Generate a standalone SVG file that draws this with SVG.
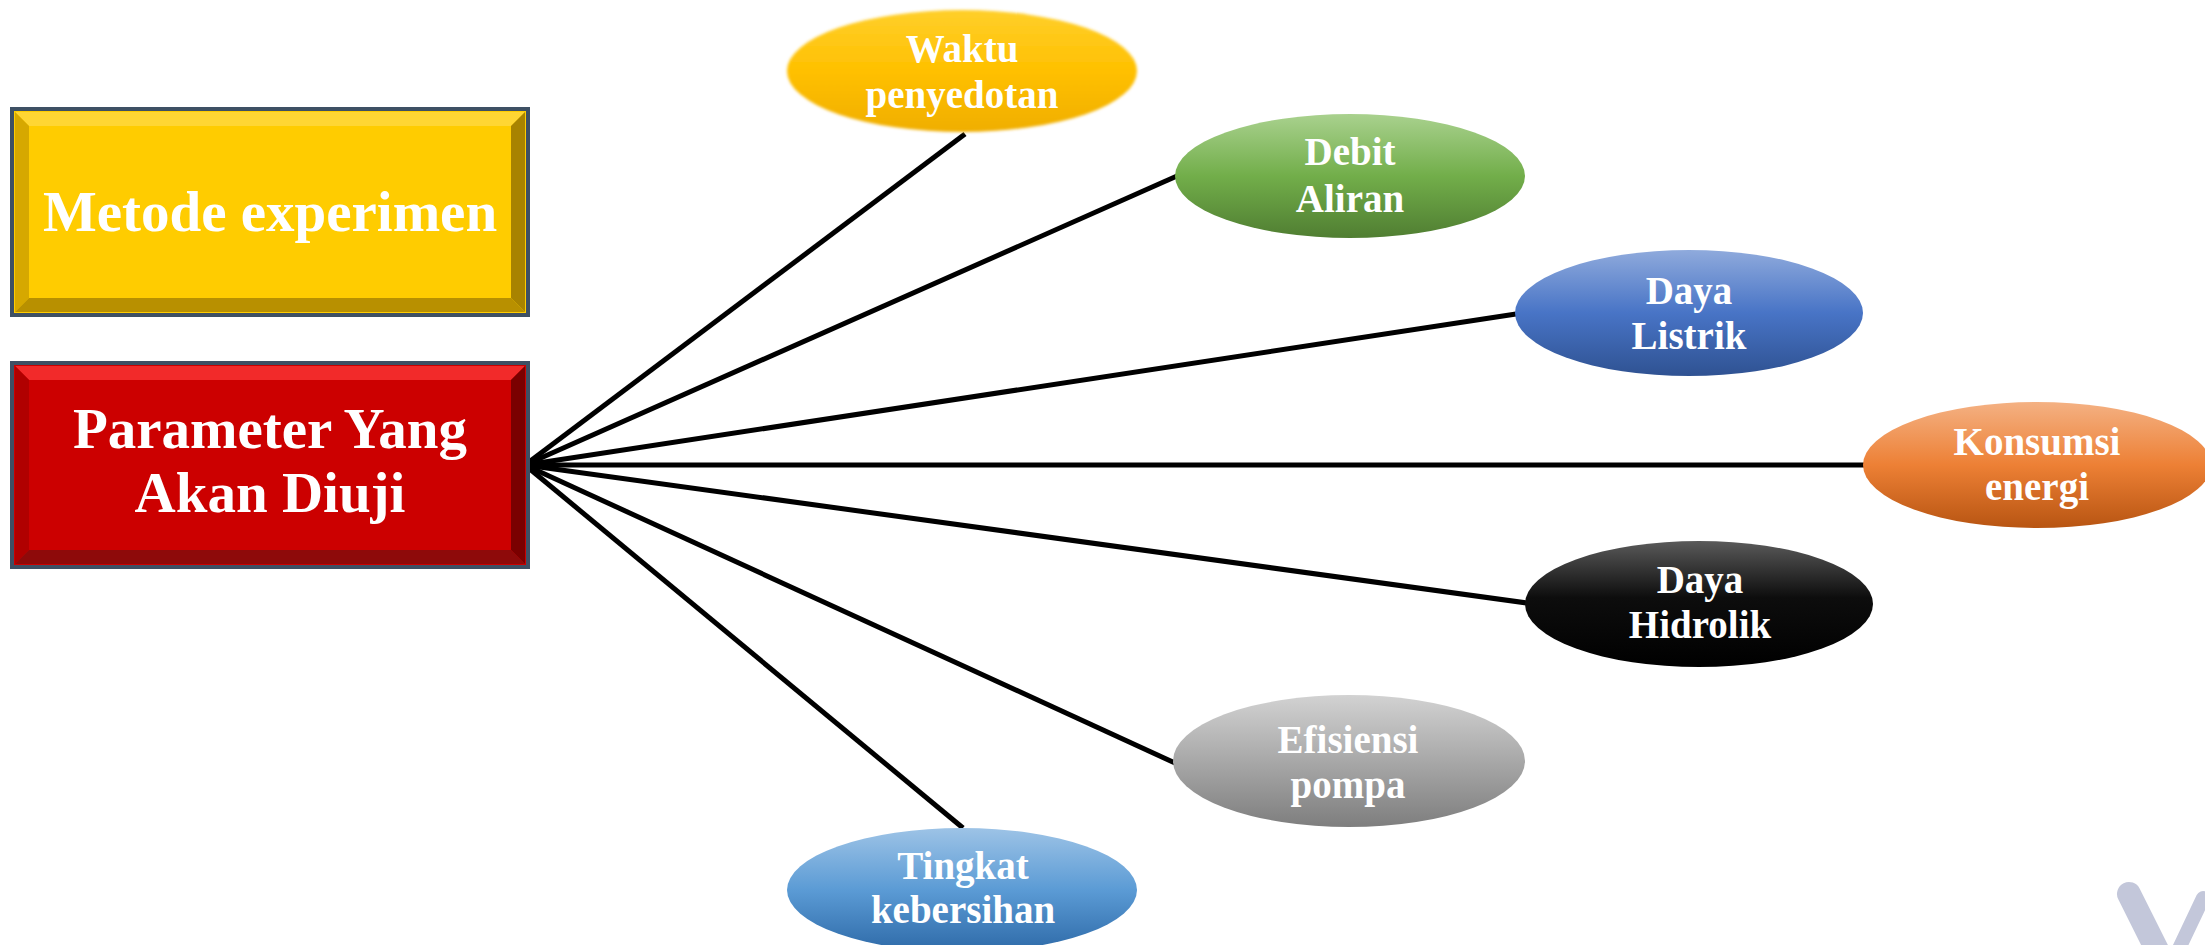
<svg xmlns="http://www.w3.org/2000/svg" width="2205" height="945" viewBox="0 0 2205 945">
<defs>
<style>
.conn{stroke:#000;stroke-width:5;fill:none}
.lbl{font-family:"Liberation Serif","Times New Roman",serif;font-weight:bold;fill:#fff;text-anchor:middle}
.big{font-size:57px}
.small{font-size:39px}
.frame{fill:none;stroke:#3E5064;stroke-width:4}
</style>
<linearGradient id="gGold" x1="0" y1="0" x2="0" y2="1"><stop offset="0" stop-color="#FFCF2A"/><stop offset="0.5" stop-color="#FFC000"/><stop offset="1" stop-color="#F0AE00"/></linearGradient>
<linearGradient id="gGreen" x1="0" y1="0" x2="0" y2="1"><stop offset="0" stop-color="#A9D18E"/><stop offset="0.5" stop-color="#72AE4A"/><stop offset="1" stop-color="#507E32"/></linearGradient>
<linearGradient id="gBlue" x1="0" y1="0" x2="0" y2="1"><stop offset="0" stop-color="#8FAADC"/><stop offset="0.5" stop-color="#4874C6"/><stop offset="1" stop-color="#2F5292"/></linearGradient>
<linearGradient id="gOrange" x1="0" y1="0" x2="0" y2="1"><stop offset="0" stop-color="#F4B183"/><stop offset="0.5" stop-color="#ED8035"/><stop offset="1" stop-color="#B85512"/></linearGradient>
<linearGradient id="gBlack" x1="0" y1="0" x2="0" y2="1"><stop offset="0" stop-color="#5A5A5A"/><stop offset="0.45" stop-color="#0D0D0D"/><stop offset="1" stop-color="#000"/></linearGradient>
<linearGradient id="gGray" x1="0" y1="0" x2="0" y2="1"><stop offset="0" stop-color="#D2D2D2"/><stop offset="0.5" stop-color="#A8A8A8"/><stop offset="1" stop-color="#7E7E7E"/></linearGradient>
<linearGradient id="gSky" x1="0" y1="0" x2="0" y2="1"><stop offset="0" stop-color="#9DC3E6"/><stop offset="0.5" stop-color="#5B9BD5"/><stop offset="1" stop-color="#2E6AA8"/></linearGradient>
<filter id="soft" x="-10%" y="-20%" width="120%" height="140%"><feGaussianBlur stdDeviation="1.8"/></filter>
</defs>

<rect width="2205" height="945" fill="#fff"/>

<g id="connectors">
<line class="conn" x1="525" y1="465" x2="965" y2="134"/>
<line class="conn" x1="525" y1="465" x2="1177" y2="176"/>
<line class="conn" x1="525" y1="465" x2="1516" y2="314"/>
<line class="conn" x1="525" y1="465" x2="1864" y2="465"/>
<line class="conn" x1="525" y1="465" x2="1527" y2="603"/>
<line class="conn" x1="525" y1="465" x2="1175" y2="763"/>
<line class="conn" x1="525" y1="465" x2="963" y2="828"/>
</g>

<g id="metode">
<rect x="12" y="109" width="516" height="206" fill="#FFCC00"/>
<polygon points="15,112 525,112 511,126 29,126" fill="#FFD633"/>
<polygon points="15,112 29,126 29,298 15,312" fill="#D6A800"/>
<polygon points="525,112 525,312 511,298 511,126" fill="#A88300"/>
<polygon points="15,312 29,298 511,298 525,312" fill="#B89000"/>
<rect x="12" y="109" width="516" height="206" class="frame"/>
<text class="lbl big" x="270" y="231">Metode experimen</text>
</g>

<g id="parameter">
<rect x="12" y="363" width="516" height="204" fill="#CC0000"/>
<polygon points="15,366 525,366 511,380 29,380" fill="#F22A2A"/>
<polygon points="15,366 29,380 29,550 15,564" fill="#B00000"/>
<polygon points="525,366 525,564 511,550 511,380" fill="#7A0000"/>
<polygon points="15,564 29,550 511,550 525,564" fill="#8E0A0A"/>
<rect x="12" y="363" width="516" height="204" class="frame"/>
<text class="lbl big" x="270" y="448">Parameter Yang</text>
<text class="lbl big" x="270" y="512">Akan Diuji</text>
</g>

<g id="waktu">
<ellipse cx="962" cy="71" rx="175" ry="61" fill="url(#gGold)" filter="url(#soft)"/>
<text class="lbl small" x="962" y="62">Waktu</text>
<text class="lbl small" x="962" y="108">penyedotan</text>
</g>

<g id="debit">
<ellipse cx="1350" cy="176" rx="175" ry="62" fill="url(#gGreen)"/>
<text class="lbl small" x="1350" y="165">Debit</text>
<text class="lbl small" x="1350" y="212">Aliran</text>
</g>

<g id="listrik">
<ellipse cx="1689" cy="313" rx="174" ry="63" fill="url(#gBlue)"/>
<text class="lbl small" x="1689" y="304">Daya</text>
<text class="lbl small" x="1689" y="349">Listrik</text>
</g>

<g id="konsumsi">
<ellipse cx="2037" cy="465" rx="174" ry="63" fill="url(#gOrange)"/>
<text class="lbl small" x="2037" y="455">Konsumsi</text>
<text class="lbl small" x="2037" y="500">energi</text>
</g>

<g id="hidrolik">
<ellipse cx="1699" cy="604" rx="174" ry="63" fill="url(#gBlack)"/>
<text class="lbl small" x="1700" y="593">Daya</text>
<text class="lbl small" x="1700" y="638">Hidrolik</text>
</g>

<g id="efisiensi">
<ellipse cx="1349" cy="761" rx="176" ry="66" fill="url(#gGray)"/>
<text class="lbl small" x="1348" y="753">Efisiensi</text>
<text class="lbl small" x="1348" y="798">pompa</text>
</g>

<g id="tingkat">
<ellipse cx="962" cy="890" rx="175" ry="62" fill="url(#gSky)"/>
<text class="lbl small" x="963" y="879">Tingkat</text>
<text class="lbl small" x="963" y="923">kebersihan</text>
</g>

<g id="mark" stroke="#C3C7DA" stroke-linecap="round" fill="none">
<line x1="2129" y1="894" x2="2162" y2="960" stroke-width="24"/>
<line x1="2203" y1="898" x2="2176" y2="955" stroke-width="14"/>
</g>
</svg>
